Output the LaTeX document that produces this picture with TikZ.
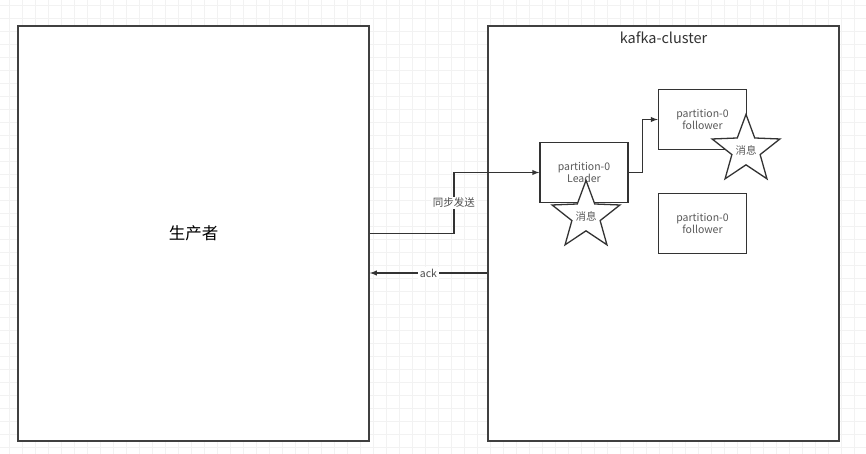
\documentclass[tikz,border=0pt]{standalone}
\usepackage{fontspec}
\setmainfont{Noto Sans CJK SC}
\usetikzlibrary{shapes.geometric}

\begin{document}
\begin{tikzpicture}[x=1pt,y=-1pt,>=latex,
    gridline/.style={draw=black!5, line width=0.6pt},
    bigbox/.style={draw=black!75, line width=1.6pt, fill=white, minimum width=351pt, minimum height=415pt},
    part/.style={draw=black!80, line width=1.4pt, fill=white, text=black!65, align=center, minimum width=88pt, minimum height=60pt, font=\fontsize{10.5}{12.5}\selectfont},
    msg/.style={star, star points=5, star point ratio=2.4, draw=black!80, line width=1.3pt, fill=white, minimum size=66pt, inner sep=0pt, text=black!65, font=\fontsize{10.5}{12}\selectfont},
    link/.style={->, draw=black!80, line width=1.4pt},
    tag/.style={fill=white, inner sep=1.5pt, text=black!70, font=\fontsize{10.5}{12}\selectfont}]
  \useasboundingbox (0,0) rectangle (866,454);
  % background grid
  \fill[white] (0,0) rectangle (866,454);
  \foreach \gx in {9,22,...,866} \draw[gridline] (\gx,0) -- (\gx,454);
  \foreach \gy in {5,18,...,454} \draw[gridline] (0,\gy) -- (866,\gy);

  \node (producer) [bigbox, font=\fontsize{16.5}{18}\selectfont] at (193.5,233.5) {生产者};
  \node (cluster) [bigbox] at (663.5,233.5) {};
  \node (title) [text=black!80, font=\fontsize{14.5}{16}\selectfont] at (663.5,38) {kafka-cluster};

  \node (leader) [part] at (584,172.5) {partition-0\\Leader};
  \node (follower1) [part] at (702.5,119.5) {partition-0\\follower};
  \node (follower2) [part] at (702.5,223.5) {partition-0\\follower};

  \node (msg1) [msg] at (586,216) {消息};
  \node (msg2) [msg] at (746,150) {消息};

  \draw[link] (producer.east) -- ++(84,0) |- (leader.west) node[tag, pos=0.25] {同步发送};
  \draw[link] (leader.east) -- ++(14,0) |- (follower1.west);
  \draw[link] ([yshift=-39.5pt]cluster.west) -- ([yshift=-39.5pt]producer.east) node[tag, midway] {ack};
\end{tikzpicture}
\end{document}
